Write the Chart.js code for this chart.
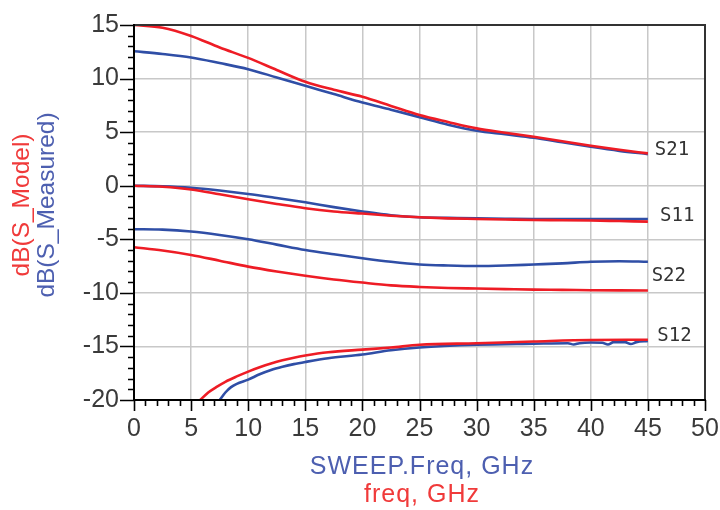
<!DOCTYPE html>
<html>
<head>
<meta charset="utf-8">
<script src="https://cdn.jsdelivr.net/npm/chart.js@4.4.1/dist/chart.umd.min.js"></script>
<style>
  html, body { margin: 0; padding: 0; background: #ffffff; }
  #wrap { width: 720px; height: 510px; position: relative; }
</style>
</head>
<body>
<div id="wrap"><canvas id="c" width="720" height="510"></canvas></div>
<script>
// ---------- data ----------
const freq = [0, 2.5, 5, 7.5, 10, 12.5, 15, 17.5, 20, 22.5, 25, 27.5, 30, 32.5, 35, 37.5, 40, 42.5, 45];

const s21Model    = [15.0, 14.75, 13.98, 12.9, 11.93, 10.8, 9.7, 8.95, 8.3, 7.45, 6.6, 5.95, 5.35, 4.95, 4.57, 4.15, 3.73, 3.35, 3.02];
const s21Measured = [12.55, 12.3, 11.97, 11.45, 10.88, 10.1, 9.32, 8.55, 7.77, 7.1, 6.4, 5.7, 5.13, 4.8, 4.47, 4.05, 3.63, 3.25, 2.95];

const s11Model    = [0, -0.1, -0.35, -0.8, -1.27, -1.7, -2.1, -2.4, -2.6, -2.8, -2.95, -3.05, -3.1, -3.15, -3.2, -3.22, -3.25, -3.3, -3.35];
const s11Measured = [0, -0.05, -0.19, -0.45, -0.77, -1.15, -1.55, -2.0, -2.4, -2.75, -2.95, -3.0, -3.05, -3.08, -3.1, -3.1, -3.1, -3.1, -3.1];

const s22Model    = [-5.74, -6.05, -6.46, -7.0, -7.55, -8.0, -8.4, -8.75, -9.04, -9.3, -9.45, -9.55, -9.6, -9.65, -9.7, -9.72, -9.75, -9.77, -9.78];
const s22Measured = [-4.06, -4.1, -4.28, -4.6, -5.0, -5.5, -6.0, -6.4, -6.77, -7.1, -7.35, -7.45, -7.5, -7.45, -7.35, -7.25, -7.1, -7.05, -7.1];

const s12ModelFreq = [5.8, 6.5, 7.2, 8, 9, 10, 11, 12, 13, 14, 15, 17, 20, 22.5, 25, 30, 35, 40, 45];
const s12Model     = [-20, -19.3, -18.8, -18.3, -17.8, -17.35, -16.95, -16.6, -16.3, -16.05, -15.85, -15.55, -15.3, -15.1, -14.85, -14.7, -14.54, -14.4, -14.38];

const s12MeasFreq  = [7.5, 8, 8.5, 9, 10, 11, 12, 13, 14, 15, 17, 20, 22.5, 25, 30, 35, 38, 38.5, 39, 40, 41, 41.5, 42, 43, 43.5, 44, 45];
const s12Measured  = [-20, -19.3, -18.8, -18.5, -18.1, -17.6, -17.2, -16.9, -16.65, -16.45, -16.1, -15.75, -15.35, -15.1, -14.85, -14.75, -14.7, -14.82, -14.7, -14.63, -14.65, -14.82, -14.6, -14.6, -14.78, -14.6, -14.5];

const curveLabels = ['S21', 'S11', 'S22', 'S12'];
const labelAnchors = [[45.6, 3.3], [46.06, -2.8], [45.33, -8.39], [45.82, -14.05]];

const xTicks = { min: 0, max: 50, step: 5, minor: 1 };
const yTicks = { min: -20, max: 15, step: 5, minor: 1 };

const yTitleModel = 'dB(S_Model)';
const yTitleMeasured = 'dB(S_Measured)';
const xTitleMeasured = 'SWEEP.Freq, GHz';
const xTitleModel = 'freq, GHz';

// ---------- styles ----------
const RED = '#ee1c25';
const BLUE = '#2f4ea6';
const pts = (xs, ys) => xs.map((x, i) => ({ x: x, y: ys[i] }));

function ds(label, xs, ys, color) {
  return {
    label: label,
    data: pts(xs, ys),
    borderColor: color,
    backgroundColor: color,
    borderWidth: 2.6,
    pointRadius: 0,
    fill: false,
    tension: 0.35,
    cubicInterpolationMode: 'monotone'
  };
}

const frame = {
  id: 'frame',
  afterDraw(chart) {
    const ctx = chart.ctx;
    const a = chart.chartArea;
    const xs = chart.scales.x, ys = chart.scales.y;
    ctx.save();
    // top & right border
    ctx.strokeStyle = '#333333';
    ctx.lineWidth = 2;
    ctx.beginPath();
    ctx.moveTo(a.left, a.top); ctx.lineTo(a.right, a.top); ctx.lineTo(a.right, a.bottom);
    ctx.stroke();
    // left & bottom axis
    ctx.strokeStyle = '#000000';
    ctx.beginPath();
    ctx.moveTo(a.left, a.top - 1); ctx.lineTo(a.left, a.bottom); ctx.lineTo(a.right + 1, a.bottom);
    ctx.stroke();
    // ticks
    ctx.lineWidth = 1.6;
    ctx.beginPath();
    for (let v = yTicks.min; v <= yTicks.max; v += yTicks.minor) {
      const p = Math.round(ys.getPixelForValue(v)) + 0.5;
      const len = (v % yTicks.step === 0) ? 14 : 6;
      ctx.moveTo(a.left - len, p); ctx.lineTo(a.left, p);
    }
    for (let v = xTicks.min; v <= xTicks.max; v += xTicks.minor) {
      const p = Math.round(xs.getPixelForValue(v)) + 0.5;
      const len = (v % xTicks.step === 0) ? 11 : 6;
      ctx.moveTo(p, a.bottom); ctx.lineTo(p, a.bottom + len);
    }
    ctx.stroke();

    // curve labels
    ctx.fillStyle = '#333333';
    ctx.font = '19px "DejaVu Sans Mono"';
    ctx.textAlign = 'left';
    ctx.textBaseline = 'middle';
    curveLabels.forEach((t, i) => {
      ctx.fillText(t, xs.getPixelForValue(labelAnchors[i][0]), ys.getPixelForValue(labelAnchors[i][1]));
    });

    // y titles (rotated)
    const cy = 205;
    ctx.font = '24.5px "Liberation Sans"';
    ctx.textAlign = 'center';
    ctx.textBaseline = 'middle';
    ctx.save();
    ctx.translate(22, cy);
    ctx.rotate(-Math.PI / 2);
    ctx.fillStyle = '#f03a3a';
    ctx.fillText(yTitleModel, 0, 0);
    ctx.restore();
    ctx.save();
    ctx.translate(47, cy);
    ctx.rotate(-Math.PI / 2);
    ctx.fillStyle = '#4d5fb0';
    ctx.fillText(yTitleMeasured, 0, 0);
    ctx.restore();

    // x titles
    const cx = 422;
    ctx.font = '25px "Liberation Sans"';
    ctx.letterSpacing = '1px';
    ctx.fillStyle = '#4d5fb0';
    ctx.fillText(xTitleMeasured, cx, 467);
    ctx.fillStyle = '#f03a3a';
    ctx.fillText(xTitleModel, cx, 495);
    ctx.restore();
  }
};

new Chart(document.getElementById('c'), {
  type: 'line',
  data: {
    datasets: [
      ds('S21 model', freq, s21Model, RED),
      ds('S11 model', freq, s11Model, RED),
      ds('S22 model', freq, s22Model, RED),
      ds('S12 model', s12ModelFreq, s12Model, RED),
      ds('S21 measured', freq, s21Measured, BLUE),
      ds('S11 measured', freq, s11Measured, BLUE),
      ds('S22 measured', freq, s22Measured, BLUE),
      ds('S12 measured', s12MeasFreq, s12Measured, BLUE)
    ]
  },
  options: {
    responsive: false,
    animation: false,
    devicePixelRatio: 1,
    layout: { padding: { left: 0, right: 15, top: 25, bottom: 0 } },
    plugins: { legend: { display: false }, tooltip: { enabled: false } },
    scales: {
      x: {
        type: 'linear',
        min: xTicks.min, max: xTicks.max,
        afterFit(s) { s.height = 110; s.paddingLeft = 0; s.paddingRight = 0; },
        ticks: { stepSize: xTicks.step, padding: 14, color: '#3a3a3a', font: { family: 'Liberation Sans', size: 25 }, maxRotation: 0 },
        grid: { color: '#c8c8c8', lineWidth: 1.5, drawTicks: false },
        border: { display: false }
      },
      y: {
        type: 'linear',
        min: yTicks.min, max: yTicks.max,
        afterFit(s) { s.width = 134; s.paddingTop = 0; s.paddingBottom = 0; },
        ticks: { stepSize: yTicks.step, padding: 15, color: '#3a3a3a', font: { family: 'Liberation Sans', size: 25 } },
        grid: { color: '#c8c8c8', lineWidth: 1.5, drawTicks: false },
        border: { display: false }
      }
    }
  },
  plugins: [frame]
});
</script>
</body>
</html>
